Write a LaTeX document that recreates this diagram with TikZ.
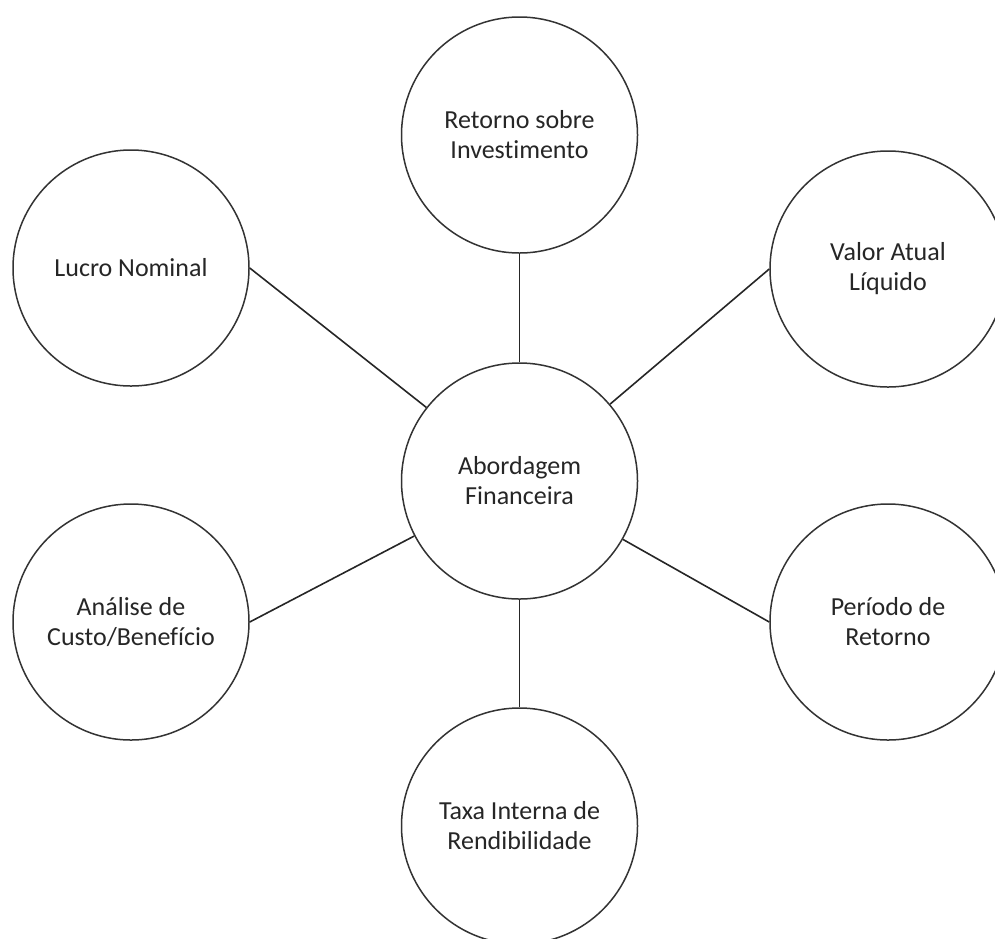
\documentclass[tikz,border=0pt]{standalone}
\usepackage{fontspec}
\setmainfont[Ligatures={NoCommon}]{Carlito}
\begin{document}
\begin{tikzpicture}[x=1pt,y=-1pt,
  bubble/.style={circle, draw=black!80, line width=1.5pt, fill=white,
    minimum size=236pt, inner sep=0pt, align=center,
    font=\fontsize{26}{30}\selectfont, text=black!85},
  link/.style={draw=black!85, line width=1.6pt}]
  \useasboundingbox (0,0) rectangle (995,938);
  % hub and the six surrounding topics
  \node[bubble] (hub)   at (519.5,481) {Abordagem\\Financeira};
  \node[bubble] (roi)   at (519.5,135) {Retorno sobre\\Investimento};
  \node[bubble] (lucro) at (131,268)   {Lucro Nominal};
  \node[bubble] (val)   at (888,269)   {Valor Atual\\Líquido};
  \node[bubble] (acb)   at (131,622)   {Análise de\\Custo/Benefício};
  \node[bubble] (per)   at (888,622)   {Período de\\Retorno};
  \node[bubble] (tir)   at (519.5,826) {Taxa Interna de\\Rendibilidade};
  % spokes
  \draw[link] (hub) -- (roi);
  \draw[link] (hub) -- (tir);
  \draw[link] (hub) -- (lucro.east);
  \draw[link] (hub) -- (val.west);
  \draw[link] (hub) -- (acb.east);
  \draw[link] (hub) -- (per.west);
\end{tikzpicture}
\end{document}
